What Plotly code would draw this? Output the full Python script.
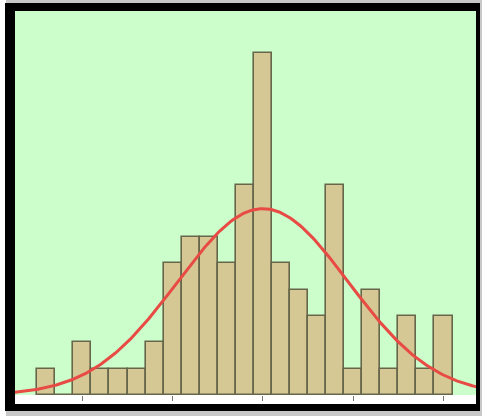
import numpy as np
import plotly.graph_objects as go

# Histogram bins (bin index = position along x) and counts
bin_centers = list(range(23))
counts = [1, 0, 2, 1, 1, 1, 2, 5, 6, 6, 5, 8, 13, 5, 4, 3, 8, 1, 4, 1, 3, 1, 3]
tick_positions = [2, 7, 12, 17, 22]
tick_labels = ["", "", "", "", ""]

# Normal curve fitted to the histogram data
c = np.array(counts, dtype=float)
xc = np.array(bin_centers, dtype=float)
n = c.sum()
mu = (c * xc).sum() / n
sd = np.sqrt((c * (xc - mu) ** 2).sum() / n)
xs = np.linspace(-1.75, 23.85, 300)
ys = n * 1.0 / (sd * np.sqrt(2 * np.pi)) * np.exp(-((xs - mu) ** 2) / (2 * sd ** 2))

W, H = 483, 416
L, R, T, B = 15, 7, 11, 21
pw, ph = W - L - R, H - T - B

def px(xp):
    return (xp - L) / pw

def py(yp):
    return (H - B - yp) / ph

fig = go.Figure()
fig.add_trace(go.Bar(
    x=bin_centers, y=counts, width=1.0,
    marker=dict(color="#d5c894", line=dict(color="#66664a", width=1.6)),
    hoverinfo="skip",
))
fig.add_trace(go.Scatter(
    x=xs, y=ys, mode="lines",
    line=dict(color="#e84a44", width=3),
    hoverinfo="skip",
))

shapes = [
    # soft shadow
    dict(type="rect", xref="paper", yref="paper", x0=px(6), x1=px(482), y0=py(416), y1=py(0),
         fillcolor="#c8c8c8", line=dict(width=0), layer="below"),
    # black frame
    dict(type="rect", xref="paper", yref="paper", x0=px(5), x1=px(480), y0=py(411), y1=py(3),
         fillcolor="#000000", line=dict(width=0), layer="below"),
    # white axis strip
    dict(type="rect", xref="paper", yref="paper", x0=px(15), x1=px(476), y0=py(404), y1=py(395),
         fillcolor="#ffffff", line=dict(width=0), layer="below"),
    # green plot area
    dict(type="rect", xref="paper", yref="paper", x0=0, x1=1, y0=0, y1=1,
         fillcolor="#ccfecc", line=dict(width=0), layer="below"),
]

fig.update_layout(
    width=W, height=H,
    margin=dict(l=L, r=R, t=T, b=B),
    paper_bgcolor="#ffffff",
    plot_bgcolor="#ccfecc",
    showlegend=False,
    bargap=0,
    shapes=shapes,
)
fig.update_xaxes(
    range=[-1.73, 23.8], tickvals=tick_positions, ticktext=tick_labels,
    ticks="outside", ticklen=5, tickwidth=1, tickcolor="#777777",
    showgrid=False, zeroline=False, showline=False, fixedrange=True,
)
fig.update_yaxes(
    range=[0, 14.6], showticklabels=False, ticks="", showgrid=False,
    zeroline=False, showline=False, fixedrange=True,
)

fig.write_html(
    "out.html",
    config={"displayModeBar": False},
    post_script="document.body.style.margin='0px';document.body.style.overflow='hidden';",
)
